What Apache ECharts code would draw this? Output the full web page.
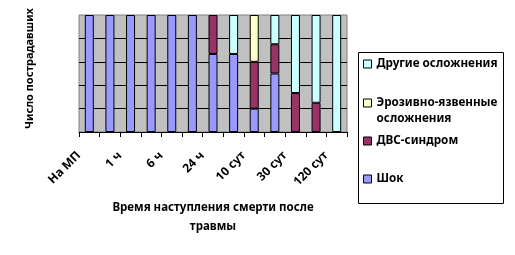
<!DOCTYPE html>
<html>
<head>
<meta charset="utf-8">
<script src="https://cdn.jsdelivr.net/npm/echarts@6/dist/echarts.min.js"></script>
<style>
    html, body { margin: 0; padding: 0; background: #fff; }
    #chart { width: 515px; height: 255px; }
</style>
</head>
<body>
<div id="chart"></div>
<script>
    // категории времени (подписана каждая вторая)
    var categories = ['На МП', '30 мин', '1 ч', '3 ч', '6 ч', '12 ч', '24 ч', '3 сут', '10 сут', '20 сут', '30 сут', '60 сут', '120 сут'];
    // доли, %
    var shockData = [100, 100, 100, 100, 100, 100, 66.7, 66.7, 20, 50, 0, 0, 0];
    var dvsData = [0, 0, 0, 0, 0, 0, 33.3, 0, 40, 25, 33.3, 25, 0];
    var erosData = [0, 0, 0, 0, 0, 0, 0, 0, 40, 0, 0, 0, 0];
    var otherData = [0, 0, 0, 0, 0, 0, 0, 33.3, 0, 25, 66.7, 75, 100];
    var yTicks = [0, 20, 40, 60, 80, 100];

    var font = 'Noto Sans';

    var noZero = function (arr) {
        return arr.map(function (v) { return v === 0 ? '-' : v; });
    };

    var makeSeries = function (name, data, color) {
        return {
            name: name,
            type: 'bar',
            stack: 'all',
            barWidth: 9,
            data: noZero(data),
            itemStyle: { color: color, borderColor: '#000', borderWidth: 1 },
            emphasis: { disabled: true }
        };
    };

    var makeLegend = function (name, top, formatter) {
        var lg = {
            data: [name],
            left: 363,
            top: top,
            padding: 0,
            icon: 'rect',
            itemWidth: 8,
            itemHeight: 8,
            itemGap: 0,
            itemStyle: { borderColor: '#000', borderWidth: 1 },
            selectedMode: false,
            textStyle: { fontFamily: font, fontSize: 11.7, fontWeight: 'bold', color: '#000', lineHeight: 16 }
        };
        if (formatter) {
            lg.formatter = formatter;
        }
        return lg;
    };

    var chart = echarts.init(document.getElementById('chart'), null, { renderer: 'canvas' });

    var option = {
        animation: false,
        graphic: [{
            type: 'rect',
            shape: { x: 358.5, y: 52.5, width: 145, height: 151 },
            style: { fill: '#fff', stroke: '#000', lineWidth: 1 },
            z: -1
        }],
        legend: [
            makeLegend('Другие осложнения', 56),
            // пустая первая строка, чтобы значок стоял напротив первой строки текста
            makeLegend('Эрозивно-язвенные осложнения', 79, function () {
                return ' \nЭрозивно-язвенные\nосложнения';
            }),
            makeLegend('ДВС-синдром', 133),
            makeLegend('Шок', 171)
        ],
        grid: {
            left: 79,
            top: 15,
            width: 268,
            height: 117,
            show: true,
            backgroundColor: '#c0c0c0',
            borderColor: '#808080',
            borderWidth: 1
        },
        xAxis: {
            type: 'category',
            data: categories,
            name: 'Время наступления смерти после\nтравмы',
            nameLocation: 'middle',
            nameGap: 66,
            nameTextStyle: { fontFamily: font, fontSize: 11.5, fontWeight: 'bold', color: '#000', lineHeight: 19 },
            axisLine: { lineStyle: { color: '#000', width: 1 } },
            axisTick: { show: true, length: 5, interval: 0, lineStyle: { color: '#000' } },
            axisLabel: {
                interval: 1,
                rotate: 45,
                margin: 11,
                padding: [0, 15, 0, 0],
                fontFamily: font,
                fontSize: 12,
                fontWeight: 'bold',
                color: '#000'
            }
        },
        yAxis: {
            type: 'value',
            min: yTicks[0],
            max: yTicks[yTicks.length - 1],
            interval: yTicks[1] - yTicks[0],
            name: 'Число пострадавших',
            nameLocation: 'middle',
            nameRotate: 90,
            nameGap: 44,
            nameTextStyle: { fontFamily: font, fontSize: 11, fontWeight: 'bold', color: '#000', padding: [0, 0, 0, 10] },
            axisLine: { show: false },
            axisTick: { show: false },
            axisLabel: { show: false },
            splitLine: { show: true, showMinLine: false, showMaxLine: false, lineStyle: { color: '#000', width: 1 } }
        },
        series: [
            makeSeries('Шок', shockData, '#9999ff'),
            makeSeries('ДВС-синдром', dvsData, '#993366'),
            makeSeries('Эрозивно-язвенные осложнения', erosData, '#ffffcc'),
            makeSeries('Другие осложнения', otherData, '#ccffff')
        ]
    };

    chart.setOption(option);
</script>
</body>
</html>
